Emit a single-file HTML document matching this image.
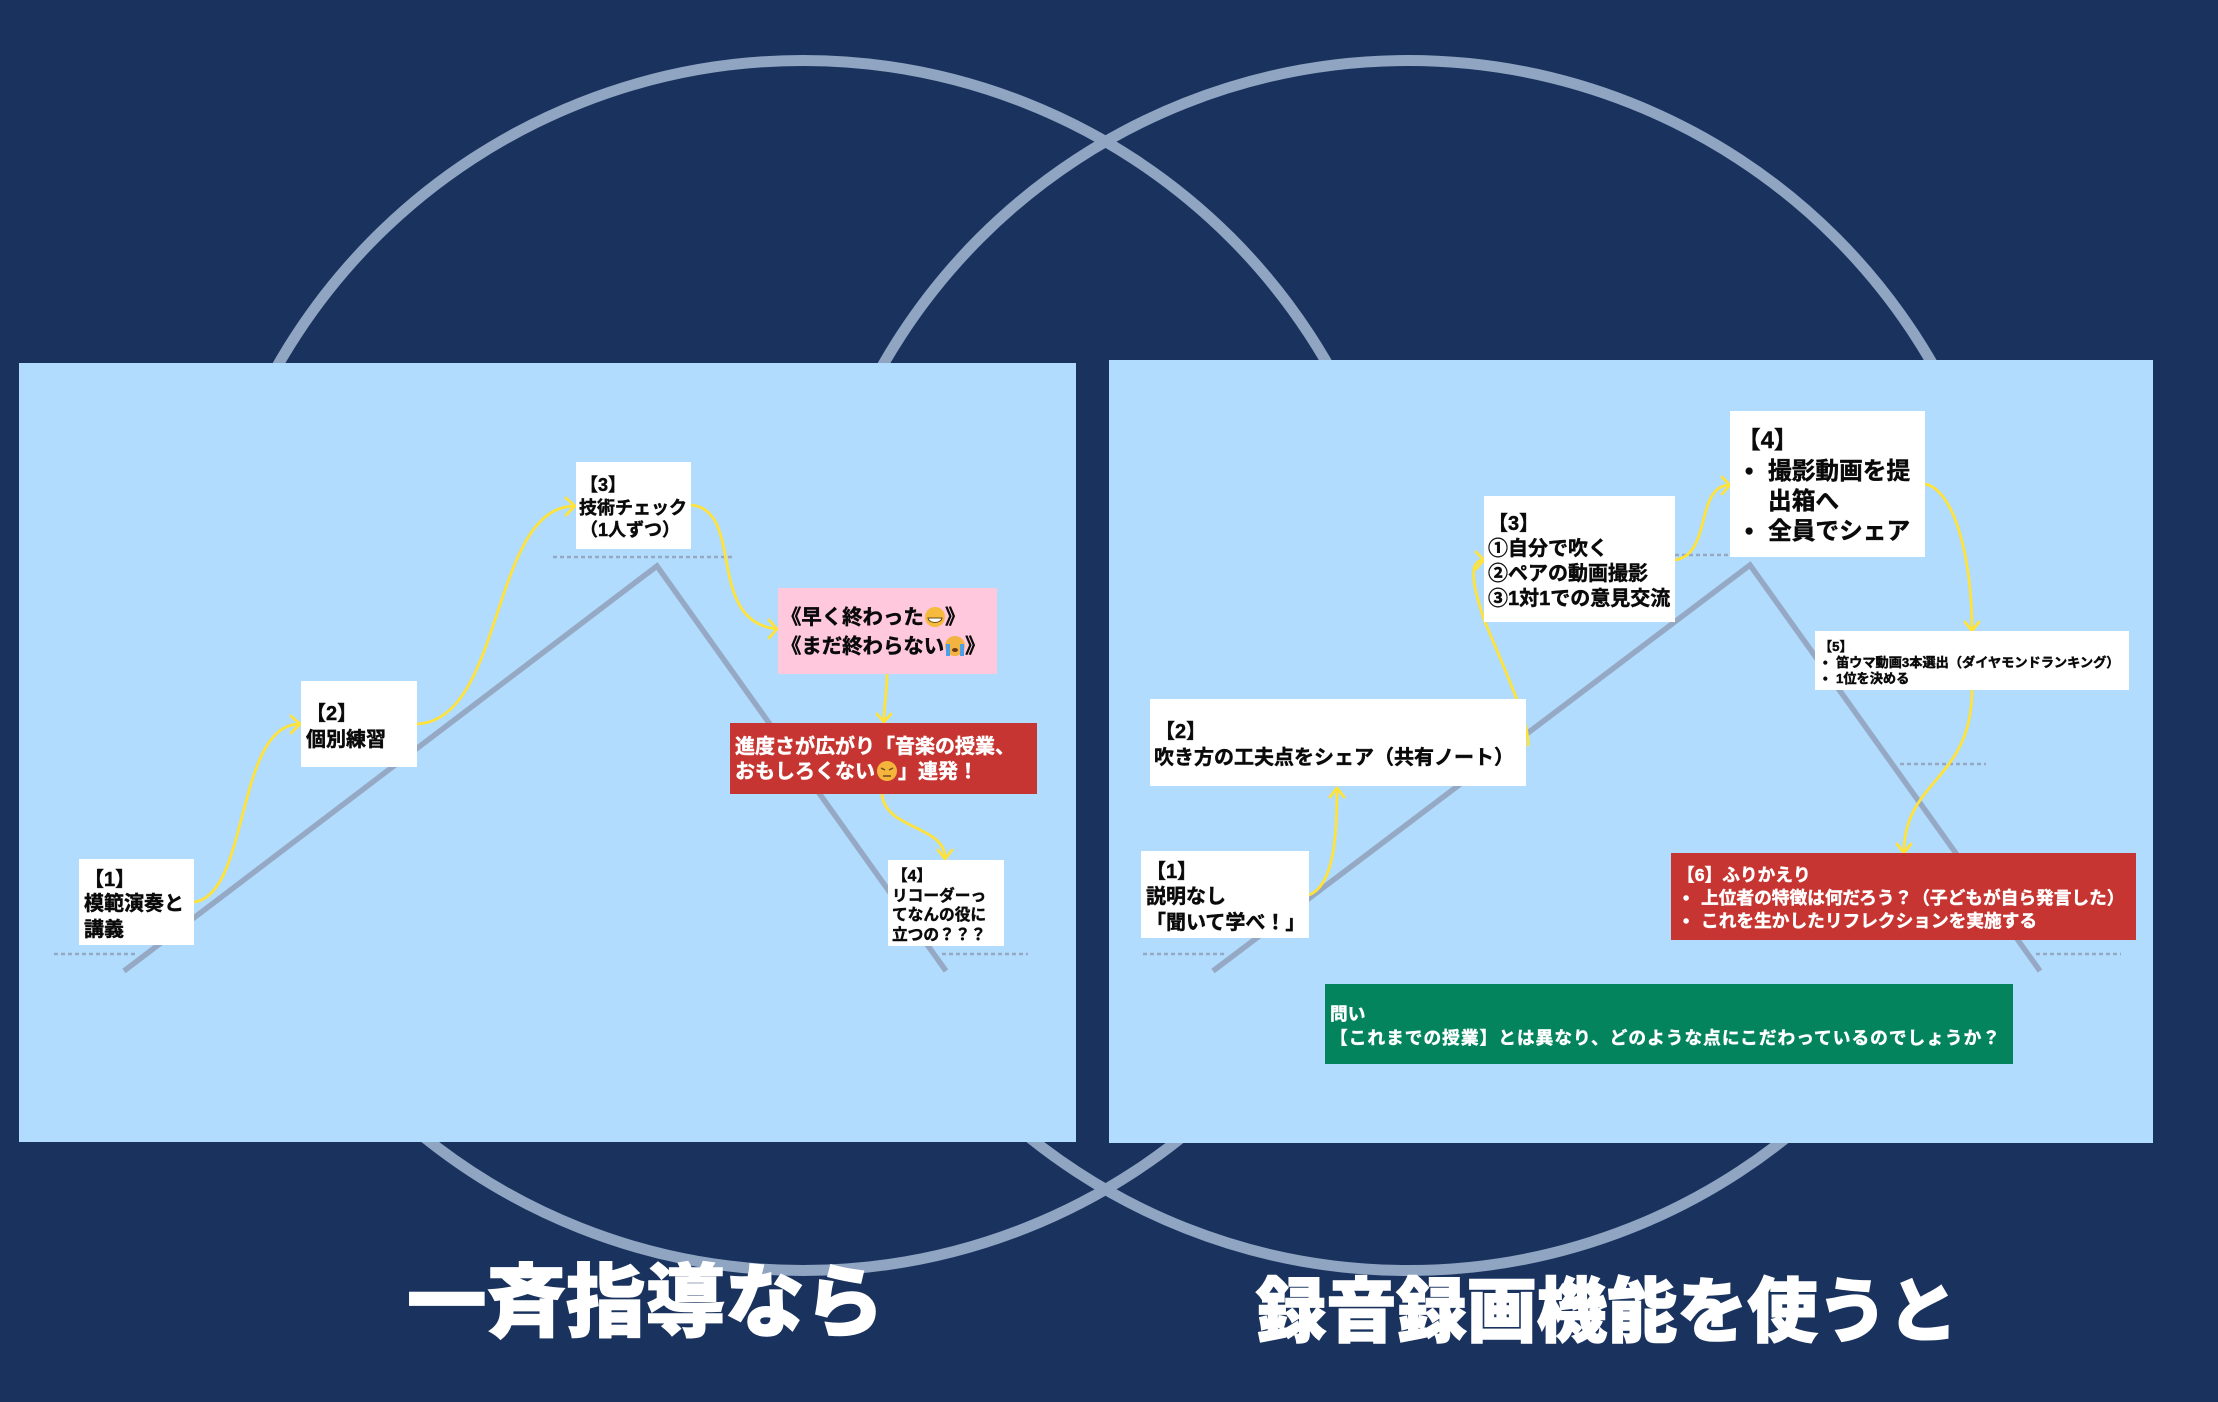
<!DOCTYPE html>
<html lang="ja"><head><meta charset="utf-8"><style>
html,body{margin:0;padding:0;background:#1a325e}
svg{display:block}
text{font-family:"Liberation Sans","Noto Sans CJK JP",sans-serif;font-weight:700;fill:#0a0a0a;stroke:#0a0a0a;stroke-width:.45;white-space:pre}
.w{fill:#fff;stroke:#fff}
.a{fill:none;stroke:#ffe23a;stroke-width:2.8;stroke-linecap:round;stroke-linejoin:round}
.m{fill:none;stroke:#96a9c4;stroke-width:5.5;stroke-linejoin:miter}
.d{stroke:#96a9c4;stroke-width:2.4;stroke-dasharray:4 3;fill:none}
</style></head><body>
<svg xmlns="http://www.w3.org/2000/svg" width="2218" height="1402" viewBox="0 0 2218 1402">
<rect width="2218" height="1402" fill="#1a325e"/>
<circle cx="803" cy="665.5" r="605" fill="none" stroke="#8fa5c2" stroke-width="11"/>
<circle cx="1408" cy="665.5" r="605" fill="none" stroke="#8fa5c2" stroke-width="11"/>
<rect x="19" y="363" width="1057" height="779" fill="#b1dcfd"/>
<rect x="1109" y="360" width="1044" height="783" fill="#b1dcfd"/>

<!-- mountains -->
<path class="m" d="M124 971 L657 566 L946 971"/>
<path class="m" d="M1213 971 L1750 565 L2040 971"/>
<path class="d" d="M54 954H138M553 557H734M942 954H1028M1143 954H1227M1675 555H1730M1900 764H1986M2036 954H2121"/>

<!-- connectors -->
<g class="a">
<path d="M194 902C250 895 235 724 300 724M291 716L300 724L291 733"/>
<path d="M417 724C505 720 490 506 575 506M566 498L575 506L566 515"/>
<path d="M691 505C745 510 705 620 776 629M769 620L777 629L769 638"/>
<path d="M887 675C887 695 884 700 884 722M877 714L884 722L891 714"/>
<path d="M882 794C885 830 945 825 945 858M938 850L945 859L952 850"/>
<path d="M1309 895C1335 885 1337 830 1337 789M1330 797L1337 788L1344 797"/>
<path d="M1528 745C1530 725 1505 670 1485 622C1472 585 1468 560 1484 560M1476 552L1484 560L1476 569"/>
<path d="M1675 560C1712 555 1695 485 1730 485M1722 477L1730 485L1722 494"/>
<path d="M1925 484C1955 490 1972 560 1972 630M1965 622L1972 631L1979 622"/>
<path d="M1972 690C1972 780 1904 780 1904 852M1897 844L1904 853L1911 844"/>
</g>

<!-- boxes -->
<g fill="#fff">
<rect x="79" y="859" width="115" height="86"/>
<rect x="301" y="681" width="116" height="86"/>
<rect x="576" y="462" width="115" height="87"/>
<rect x="888" y="860" width="116" height="86"/>
<rect x="1141" y="851" width="168" height="87"/>
<rect x="1150" y="699" width="376" height="87"/>
<rect x="1484" y="496" width="191" height="126"/>
<rect x="1730" y="411" width="195" height="146"/>
<rect x="1815" y="631" width="314" height="59"/>
</g>
<rect x="778" y="588" width="219" height="86" fill="#ffc8dc"/>
<rect x="730" y="723" width="307" height="71" fill="#c63531"/>
<rect x="1671" y="853" width="465" height="87" fill="#c63531"/>
<rect x="1325" y="984" width="688" height="80" fill="#04845c"/>

<!-- left texts -->
<g font-size="20">
<text x="84" y="886">【1】</text><text x="84" y="910">模範演奏と</text><text x="84" y="936">講義</text>
<text x="306" y="720">【2】</text><text x="306" y="746">個別練習</text>
</g>
<g font-size="18">
<text x="580" y="491">【3】</text><text x="579" y="514">技術チェック</text><text x="580" y="536">（1人ずつ）</text>
</g>
<g font-size="20.4">
<text x="781" y="624">《早く終わった</text><text x="945" y="624">》</text>
<text x="781" y="653">《まだ終わらない</text><text x="965" y="653">》</text>
</g>
<g font-size="20">
<text class="w" x="735" y="753">進度さが広がり「音楽の授業、</text>
<text class="w" x="735" y="778">おもしろくない</text><text class="w" x="898" y="778">」連発！</text>
</g>
<!-- emoji drawn as shapes -->
<circle cx="935" cy="617" r="10" fill="#f6bb3c"/><path d="M928 618H942C941 624 929 624 928 618Z" fill="#fff" stroke="#6b4a18" stroke-width="1"/>
<circle cx="955" cy="646" r="10" fill="#f3b340"/><path d="M948 644V656M962 644V656" stroke="#4d9fe8" stroke-width="4"/><ellipse cx="955" cy="650" rx="3" ry="2" fill="#6b3a18"/>
<circle cx="887" cy="771" r="10" fill="#f5b53c"/><path d="M881 768L885 770M893 768L889 770M883 776H891" stroke="#6b4a18" stroke-width="1.4" fill="none"/>
<g font-size="15.7">
<text x="892" y="881">【4】</text><text x="892" y="901">リコーダーっ</text><text x="892" y="920">てなんの役に</text><text x="892" y="940">立つの？？？</text>
</g>

<!-- right texts -->
<g font-size="20">
<text x="1146" y="878">【1】</text><text x="1146" y="903">説明なし</text><text x="1146" y="929">「聞いて学べ！」</text>
<text x="1155" y="738">【2】</text><text x="1154" y="764">吹き方の工夫点をシェア（共有ノート）</text>
<text x="1488" y="530">【3】</text><text x="1488" y="555">①自分で吹く</text><text x="1488" y="580">②ペアの動画撮影</text><text x="1488" y="605">③1対1での意見交流</text>
</g>
<g font-size="23.7">
<text x="1737" y="448">【4】</text>
<text x="1745" y="479">•</text><text x="1768" y="479">撮影動画を提</text>
<text x="1768" y="509">出箱へ</text>
<text x="1745" y="539">•</text><text x="1768" y="539">全員でシェア</text>
</g>
<g font-size="13.2">
<text x="1819" y="651">【5】</text>
<text x="1823" y="667">•</text><text x="1836" y="667">笛ウマ動画3本選出（ダイヤモンドランキング）</text>
<text x="1823" y="683">•</text><text x="1836" y="683">1位を決める</text>
</g>
<g font-size="17.7">
<text class="w" x="1677" y="881">【6】ふりかえり</text>
<text class="w" x="1683" y="904">•</text><text class="w" x="1701" y="904">上位者の特徴は何だろう？（子どもが自ら発言した）</text>
<text class="w" x="1683" y="927">•</text><text class="w" x="1701" y="927">これを生かしたリフレクションを実施する</text>
<text class="w" x="1330" y="1020">問い</text>
<text class="w" x="1330" y="1044" textLength="670">【これまでの授業】とは異なり、どのような点にこだわっているのでしょうか？</text>
</g>

<!-- titles -->
<text class="w" x="407" y="1330" font-size="79.5" style="font-weight:900;stroke-width:1.5">一斉指導なら</text>
<text class="w" x="1256" y="1336" font-size="70.2" style="font-weight:900;stroke-width:1.5">録音録画機能を使うと</text>
</svg>
</body></html>
